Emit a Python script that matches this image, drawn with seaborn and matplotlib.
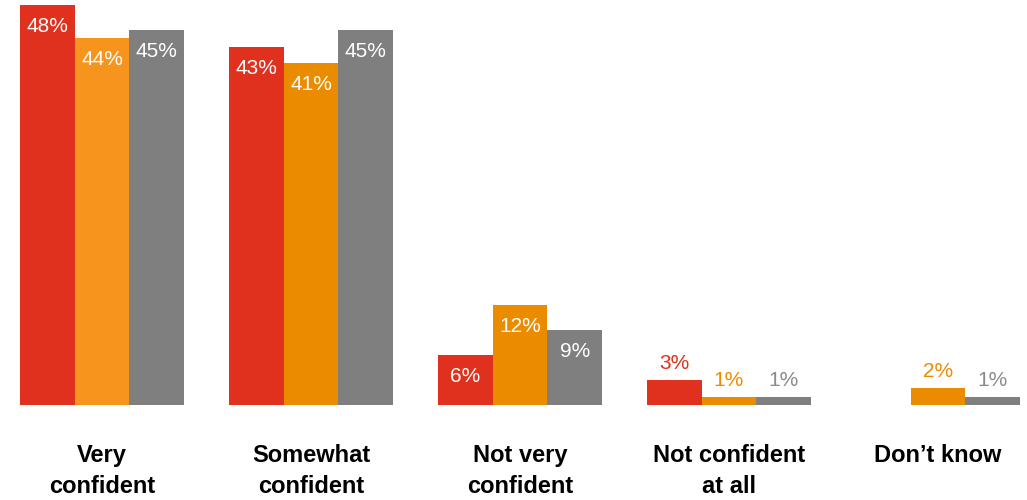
import numpy as np
import pandas as pd
import matplotlib
matplotlib.use("Agg")
import matplotlib.pyplot as plt
import seaborn as sns

# Survey responses (percent) for three respondent groups
categories = ["Very\nconfident", "Somewhat\nconfident", "Not very\nconfident",
              "Not confident\nat all", "Don\u2019t know"]
group_a = [48, 43, 6, 3, np.nan]
group_b = [44, 41, 12, 1, 2]
group_c = [45, 45, 9, 1, 1]
series = ["Group A", "Group B", "Group C"]

colors = {"Group A": "#E0301E", "Group B": "#EB8C00", "Group C": "#7F7F7F"}
label_colors = {"Group A": "#E0301E", "Group B": "#EB8C00", "Group C": "#8A8A8A"}
first_orange = "#F7941E"

df = pd.DataFrame({"category": categories, "Group A": group_a,
                   "Group B": group_b, "Group C": group_c})
long = df.melt(id_vars="category", value_vars=series,
               var_name="group", value_name="pct")

sns.set_theme(style="white")
plt.rcParams["font.family"] = ["Liberation Sans", "DejaVu Sans"]

fig = plt.figure(figsize=(10.27, 5.0), dpi=100)
ax = fig.add_axes([0.0, 0.19, 1.0, 0.81])

sns.barplot(data=long, x="category", y="pct", hue="group",
            order=categories, hue_order=series, palette=colors,
            width=0.785, saturation=1.0, linewidth=0, legend=False, ax=ax)

# lighter orange on the first group's middle bar
ax.containers[1].patches[0].set_facecolor(first_orange)

ax.set_xlim(-0.488, 4.426)
ax.set_ylim(0, 48.6)

for cont, name in zip(ax.containers, series):
    for bar in cont.patches:
        h = bar.get_height()
        if not np.isfinite(h) or h <= 0:
            continue
        xc = bar.get_x() + bar.get_width() / 2
        if h >= 5:
            ax.annotate(f"{h:.0f}%", (xc, h), xytext=(0, -15.5),
                        textcoords="offset points", ha="center", va="center",
                        color="white", fontsize=15)
        else:
            ax.annotate(f"{h:.0f}%", (xc, h), xytext=(0, 12),
                        textcoords="offset points", ha="center", va="center",
                        color=label_colors[name], fontsize=15)

ax.set_xlabel("")
ax.set_ylabel("")
ax.set_yticks([])
ax.tick_params(axis="x", length=0, pad=28)
for lbl in ax.get_xticklabels():
    lbl.set_fontsize(17)
    lbl.set_fontweight("bold")
    lbl.set_linespacing(1.45)
    lbl.set_color("black")
for s in ax.spines.values():
    s.set_visible(False)

fig.savefig("out.png", dpi=100)
